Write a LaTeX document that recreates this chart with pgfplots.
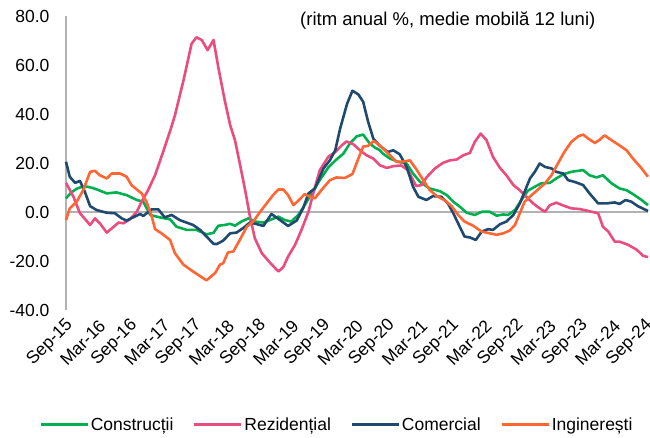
\documentclass[border=0pt]{standalone}
\usepackage{fontspec}
\setmainfont{Liberation Sans}
\usepackage{pgfplots}
\pgfplotsset{compat=1.18}
\definecolor{cgreen}{RGB}{0,176,80}
\definecolor{cpink}{RGB}{234,76,126}
\definecolor{cnavy}{RGB}{31,73,110}
\definecolor{corange}{RGB}{255,102,51}
\begin{document}
\begin{tikzpicture}
\useasboundingbox (-66pt,-127pt) rectangle (584pt,310pt);
\begin{axis}[
  at={(0pt,0pt)}, anchor=south west,
  scale only axis, width=582pt, height=294pt,
  xmin=0, xmax=108.5, ymin=-40, ymax=80,
  axis x line*=bottom, axis y line*=left,
  x axis line style={draw=none},
  y axis line style={draw=gray!60, line width=1.2pt},
  major tick length=0pt,
  ytick={-40,-20,0,20,40,60,80},
  yticklabels={-40.0,-20.0,0.0,20.0,40.0,60.0,80.0},
  xtick={0,6,...,108},
  xticklabels={Sep-15,Mar-16,Sep-16,Mar-17,Sep-17,Mar-18,Sep-18,Mar-19,Sep-19,Mar-20,Sep-20,Mar-21,Sep-21,Mar-22,Sep-22,Mar-23,Sep-23,Mar-24,Sep-24},
  tick label style={font=\fontsize{17.5}{20}\selectfont},
  yticklabel style={anchor=east, xshift=-13pt},
  xticklabel style={rotate=45, anchor=east, inner sep=0pt, xshift=-6pt, yshift=-12pt},
  extra y ticks={0}, extra y tick labels={},
  extra y tick style={grid=major, major grid style={draw=gray!60, line width=1.2pt}},
  clip=false,
  legend columns=4,
  legend style={draw=none, fill=none, at={(0.465,-0.391)}, anchor=center,
    font=\fontsize{17.5}{20}\selectfont,
    nodes={inner sep=1.5pt},
    /tikz/every even column/.append style={column sep=18pt}},
  legend image code/.code={\draw[#1, line width=3pt] (0pt,0pt) -- (47pt,0pt);},
  every axis plot/.append style={line width=2.6pt, line join=round, no marks},
]
\addplot[cgreen] coordinates {
(0,5.6) (1,8) (2,9.5) (3,10.3) (4,10.3) (5,9.8) (6,9) (7.6,7.6) (9.4,8) (11.3,6.9)
(13.2,4.9) (14.4,4.2) (15.7,-1.2) (17.5,-2.2) (19.4,-3) (20.6,-6) (22.5,-7.3) (24.3,-7.3)
(26.2,-9.1) (27.5,-8.5) (28.4,-5.6) (29.6,-5.3) (30.6,-4.8) (31.5,-5.6) (32.7,-3.9) (34,-2.6)
(35.2,-3.9) (36.8,-4.3) (38,-3.3) (39.6,-1.9) (40.8,-3.3) (42,-3.9) (43.3,-1.2) (44.5,2.8)
(45.8,7.6) (47.3,13) (48.9,18.2) (50.4,21.4) (51.7,23.8) (52.9,27.9) (54.2,30.9) (55.4,31.6)
(56.6,28) (57.6,26.3) (58.5,25.2) (59.1,23.8) (60.4,21.8) (61.9,20.5) (63.5,19.8) (64.7,15.7)
(66,12.3) (67.8,9.6) (69.7,8.5) (71,6.9) (72.2,4.2) (73.4,2.2) (74.7,-0.3) (76.2,-1.2)
(77.5,0.1) (79,0.1) (80.3,-1.5) (81.5,-1) (82.4,-1.2) (83.7,0.8) (84.9,4.9) (86.1,8.7)
(87.4,10.3) (88.6,11.7) (90.2,11.9) (91.4,13.7) (92.7,15.4) (94.2,16.4) (96.4,17.1) (97.6,15)
(98.9,14.1) (100.1,15) (101.7,11.7) (103.2,9.6) (104.5,8.9) (105.7,7.3) (107.3,4.9) (108.5,2.8)
};
\addlegendentry{Construcții}
\addplot[cpink] coordinates {
(0,11.9) (1.4,6.2) (2.6,-0.5) (4.5,-5.3) (5.4,-2.6) (6.3,-4.6) (7.6,-8.4) (8.8,-6.2)
(9.8,-4.3) (10.7,-4.6) (11.9,-3) (13.2,0.1) (14.1,4.2) (15.3,8.9) (16.6,15) (18.1,24.5)
(19.4,33) (20.3,39.4) (21.9,53.7) (23.4,68.6) (24.3,71.3) (25.3,70.2) (26.4,66.1) (27.5,70.2)
(28.4,59) (29.6,45.5) (30.6,35.5) (31.5,29.3) (32.4,19.8) (33.4,8.9) (34.3,-1.9) (35.2,-10.7)
(36.5,-16.8) (38,-20.6) (39.6,-24.3) (40.5,-22.5) (41.4,-18.2) (42.7,-13.4) (43.9,-7.3) (45.2,0.1)
(46.1,7.6) (47.3,17) (48.9,22.5) (50.2,24.5) (51.4,27.2) (52.3,28.8) (53.6,27.6) (54.8,25.2)
(56,23.2) (57.3,21.8) (58.5,19.1) (59.8,18) (61,18.7) (62.5,19) (63.8,17) (64.7,13)
(65.3,10.6) (66.3,11) (67.2,14.1) (68.8,17.8) (70.3,20.1) (71.6,21.1) (72.8,21.4) (74.1,23.2)
(75.3,24.1) (76.2,28.6) (77.3,32) (78.4,29.3) (79.6,22.5) (80.9,18) (82.1,15) (83.4,11)
(84.6,8.9) (85.8,6.2) (87.1,3.5) (88.3,1.5) (89.3,0.1) (90.2,2.8) (91.4,3.8) (93,2.4)
(94.2,1.5) (95.8,1.2) (97.4,0.4) (99.2,-0.5) (100.1,-6) (101.1,-8) (102.3,-12.1) (103.2,-12.1)
(104.8,-13.4) (106.4,-15.4) (107.6,-17.9) (108.5,-18.4)
};
\addlegendentry{Rezidențial}
\addplot[cnavy] coordinates {
(0,20.5) (0.7,14.4) (1.7,11.9) (2.6,12.7) (3.5,8.3) (4.5,2.4) (5.7,0.8) (7.6,-0.3)
(9.1,-0.5) (10.4,-2.6) (11.3,-3.5) (12.5,-2.2) (13.8,-0.8) (14.4,-1.6) (16,1.1) (17.2,1.1)
(18.4,-2.2) (19.7,-1.2) (21.2,-3.3) (23.7,-5.3) (25,-7.3) (26.5,-10.7) (27.5,-13) (28.1,-13.1)
(29.3,-11.7) (30.6,-8.7) (31.8,-8.4) (33,-6.6) (34.3,-4.3) (35.5,-4.9) (36.8,-5.7) (38.3,-0.8)
(39.9,-3.3) (41.4,-5.7) (43,-3.5) (44.2,1.5) (45.2,7.6) (46.4,9.6) (48,17.8) (49.2,21.1)
(50.2,25.2) (51.1,34) (52.4,44.2) (53.4,49.5) (54.5,48) (55.4,45) (56.3,37) (57.3,29.9)
(58.5,27) (60,24.5) (61,25.2) (62.2,23.6) (63.5,18.4) (64.7,10.3) (65.7,6.2) (67.2,4.9)
(68.4,6.5) (70,6.2) (71.2,3.5) (72.2,-0.5) (73.4,-6) (74.3,-10) (75.3,-10.4) (76.4,-11.4)
(77.5,-8) (78.7,-7) (79.6,-7.3) (80.9,-5) (82.1,-3.9) (83.4,-1.2) (84.6,3.5) (85.5,8.3)
(86.5,13.7) (87.4,16.4) (88.3,19.8) (89.3,18.4) (90.5,17.8) (91.4,16.4) (92.7,15.7) (93.6,13)
(94.8,12.3) (96.4,11) (97.6,7.6) (99.2,3.5) (100.7,3.5) (102.3,3.9) (103.2,3.3) (104.3,4.9)
(105.4,4.2) (106.6,2.4) (108.5,0.4)
};
\addlegendentry{Comercial}
\addplot[corange] coordinates {
(0,-3.3) (0.7,1.5) (2,4.2) (3.2,8.9) (4.5,16.4) (5.4,16.8) (6.3,15) (7.6,13.7)
(8.5,15.7) (10.1,15.7) (11.3,14.4) (12.2,11) (13.2,9.2) (14.1,7.6) (15,4.2) (16,-1.9)
(16.6,-7) (17.8,-8.7) (19.4,-11.4) (20.3,-16.8) (21.9,-21.5) (23.7,-24.3) (26.2,-27.9) (27.8,-24.9)
(28.7,-21.5) (29.3,-20.9) (30.2,-16.5) (31.2,-16.1) (32.4,-11.4) (33.7,-6) (34.9,-3.9) (36.2,0.1)
(37.4,3.5) (38.6,6.9) (39.6,9.2) (40.5,9.2) (41.4,6.9) (42.4,2.8) (43.3,4.6) (44.5,7.3)
(45.5,6.2) (46.4,5.6) (47.6,8.9) (49.2,13) (50.4,14.1) (52,13.9) (53.4,15.5) (54.5,21.8)
(55.4,26.7) (56.3,27) (57.4,29) (58.8,26.6) (60.4,23.2) (61.6,20.5) (62.8,20.5) (64.1,21.1)
(65.3,17.5) (66.6,13) (67.8,9) (69.1,6.5) (70.6,4.8) (71.9,2.4) (73.1,-1.2) (74.3,-3.9)
(75.9,-5.6) (77.5,-8) (79,-8.7) (80.3,-9.3) (81.5,-8.7) (82.7,-7.6) (83.7,-5.3) (84.6,-0.5)
(85.5,4.2) (86.8,6.9) (88,9.2) (89.3,11.7) (90.5,15) (91.7,19.8) (92.9,24.5) (94.2,28.6)
(95.5,30.9) (96.4,31.6) (97.4,29.9) (98.6,28.2) (99.5,29.5) (100.4,31.3) (101.7,29.3) (102.9,27.6)
(104.5,25.2) (105.7,21.8) (107.3,17.8) (108.5,14.4)
};
\addlegendentry{Inginerești}
\node[font=\fontsize{18.5}{22}\selectfont, anchor=center] at (rel axis cs:0.656,0.983) {(ritm anual \%, medie mobilă 12 luni)};
\end{axis}
\end{tikzpicture}
\end{document}
